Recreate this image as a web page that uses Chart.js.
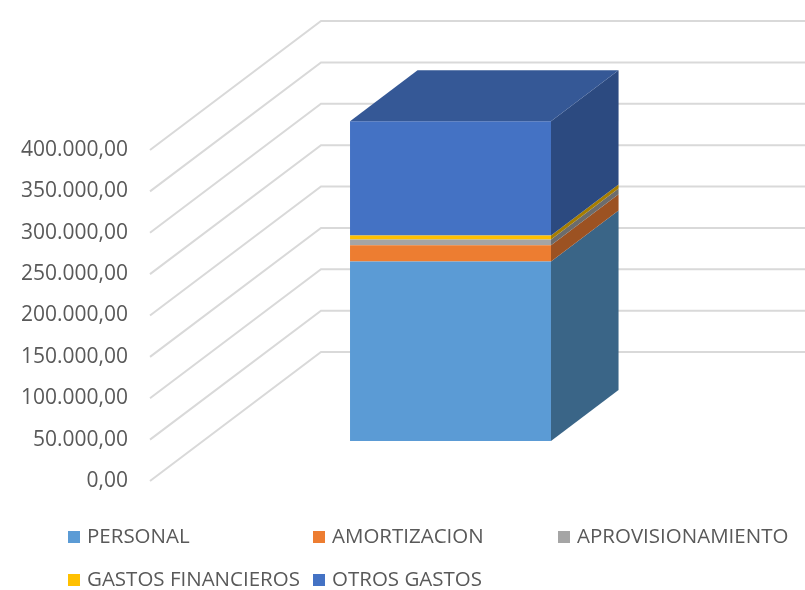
<!DOCTYPE html>
<html>
<head>
<meta charset="utf-8">
<script src="https://cdn.jsdelivr.net/npm/chart.js@4/dist/chart.umd.min.js"></script>
<style>
  html, body { margin: 0; padding: 0; background: #fff; }
  #wrap { width: 805px; height: 590px; }
</style>
</head>
<body>
<div id="wrap"><canvas id="costChart"></canvas></div>
<script>
// Datos
const categories = ['Total'];
const personal = [217000];
const amortizacion = [19500];
const aprovisionamiento = [7000];
const gastosFinancieros = [5000];
const otrosGastos = [138000];
const yMin = 0, yMax = 400000, yStep = 50000;

// Perspectiva 3D: desplazamiento de la pared del fondo y profundidad de la barra
const DEPTH = { x: 171, y: -129 };
const BAR_FRONT = 0.31, BAR_BACK = 0.705;

function fmtEs(v) {
    const s = Math.round(v).toString().replace(/\B(?=(\d{3})+(?!\d))/g, '.');
    return s + ',00';
}

const depthPlugin = {
    id: 'depth3d',
    beforeDatasetsDraw(chart) {
        const { ctx, chartArea: a, scales: { y } } = chart;
        ctx.save();
        ctx.strokeStyle = '#d9d9d9';
        ctx.lineWidth = 2;
        y.ticks.forEach(t => {
            const py = y.getPixelForValue(t.value);
            ctx.beginPath();
            ctx.moveTo(a.left, py);
            ctx.lineTo(a.left + DEPTH.x, py + DEPTH.y);
            ctx.lineTo(a.right + DEPTH.x, py + DEPTH.y);
            ctx.stroke();
        });
        ctx.restore();
        ctx.save();
        ctx.translate(DEPTH.x * BAR_FRONT, DEPTH.y * BAR_FRONT);
    },
    afterDatasetsDraw(chart) {
        const ctx = chart.ctx;
        const dx = DEPTH.x * (BAR_BACK - BAR_FRONT);
        const dy = DEPTH.y * (BAR_BACK - BAR_FRONT);
        const last = chart.data.datasets.length - 1;
        chart.data.datasets.forEach((ds, i) => {
            chart.getDatasetMeta(i).data.forEach(bar => {
                const { x, y, base, width } = bar.getProps(['x', 'y', 'base', 'width'], true);
                const l = x - width / 2, r = x + width / 2;
                ctx.fillStyle = ds.sideColor;
                ctx.beginPath();
                ctx.moveTo(r, y);
                ctx.lineTo(r + dx, y + dy);
                ctx.lineTo(r + dx, base + dy);
                ctx.lineTo(r, base);
                ctx.closePath();
                ctx.fill();
                if (i === last) {
                    ctx.fillStyle = ds.topColor;
                    ctx.beginPath();
                    ctx.moveTo(l, y);
                    ctx.lineTo(l + dx, y + dy);
                    ctx.lineTo(r + dx, y + dy);
                    ctx.lineTo(r, y);
                    ctx.closePath();
                    ctx.fill();
                }
            });
        });
        ctx.restore();
    }
};

// Leyenda en columnas, como en Excel
const legendPlugin = {
    id: 'gridLegend',
    afterDraw(chart) {
        const ctx = chart.ctx;
        ctx.save();
        ctx.font = '20.5px "Open Sans"';
        ctx.textBaseline = 'middle';
        chart.data.datasets.forEach((ds, i) => {
            const x = 68 + (i % 3) * 245;
            const y = 537 + Math.floor(i / 3) * 43;
            ctx.fillStyle = ds.backgroundColor;
            ctx.fillRect(x, y - 6, 12, 12);
            ctx.fillStyle = '#595959';
            ctx.fillText(ds.label, x + 19, y);
        });
        ctx.restore();
    }
};

new Chart(document.getElementById('costChart'), {
    type: 'bar',
    data: {
        labels: categories,
        datasets: [
            { label: 'PERSONAL', data: personal, backgroundColor: '#5b9bd5', sideColor: '#3a6587' },
            { label: 'AMORTIZACION', data: amortizacion, backgroundColor: '#ed7d31', sideColor: '#9c5222' },
            { label: 'APROVISIONAMIENTO', data: aprovisionamiento, backgroundColor: '#a5a5a5', sideColor: '#6c6c6c' },
            { label: 'GASTOS FINANCIEROS', data: gastosFinancieros, backgroundColor: '#ffc000', sideColor: '#a67d00' },
            { label: 'OTROS GASTOS', data: otrosGastos, backgroundColor: '#4472c4', sideColor: '#2c4a80', topColor: '#355896' }
        ]
    },
    options: {
        responsive: true,
        maintainAspectRatio: false,
        animation: false,
        layout: { padding: { top: 150, bottom: 109, left: 0, right: 160 } },
        datasets: { bar: { categoryPercentage: 1, barPercentage: 0.406, borderWidth: 0, clip: false } },
        plugins: { legend: { display: false }, tooltip: { enabled: false } },
        scales: {
            x: { stacked: true, display: false },
            y: {
                stacked: true,
                min: yMin, max: yMax,
                afterFit(scale) { scale.width = 150; },
                grid: { display: false, drawTicks: false },
                border: { display: false },
                ticks: {
                    stepSize: yStep,
                    padding: 22,
                    color: '#595959',
                    font: { family: 'Open Sans', size: 21 },
                    callback: v => fmtEs(v)
                }
            }
        }
    },
    plugins: [depthPlugin, legendPlugin]
});
</script>
</body>
</html>
